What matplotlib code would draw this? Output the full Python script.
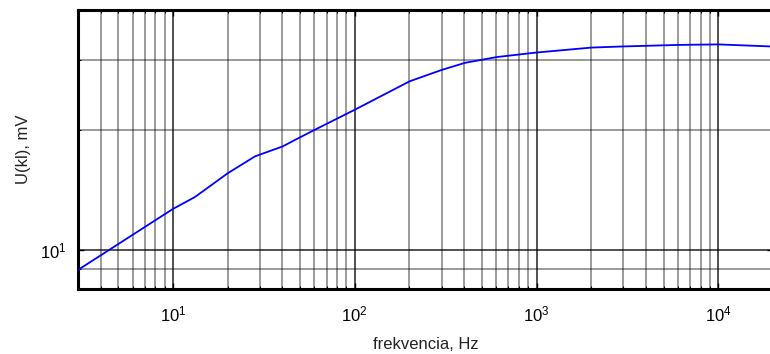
import matplotlib
matplotlib.use('Agg')
import numpy as np
from matplotlib import pyplot as plt
from matplotlib.ticker import LogLocator, NullFormatter, FixedLocator

plt.rcParams['font.family'] = ['Liberation Sans', 'DejaVu Sans']

# frequency response
freq = [3, 10, 13.2, 20, 28.3, 40, 49, 61, 100, 200, 300, 405, 607,
        1000, 2000, 2900, 6000, 10000, 20000]
u_mv = [8.93, 12.7, 13.6, 15.6, 17.2, 18.2, 19.1, 20.1, 22.5, 26.5, 28.3,
        29.5, 30.5, 31.3, 32.2, 32.4, 32.7, 32.8, 32.4]

x_lim = (3, 2e4)
y_lim = (8, 40)
x_major = [10, 100, 1000, 10000]
y_major = [10]
y_minor = [8, 9, 20, 30, 40]

fig = plt.figure(figsize=(7.7, 3.54), dpi=100)
ax = fig.add_axes([78 / 770, 1 - 289 / 354, 695 / 770, 279 / 354])

ax.plot(freq, u_mv, color='#0000ff', linewidth=1.3, zorder=3)

ax.set_xscale('log')
ax.set_yscale('log')
ax.set_xlim(*x_lim)
ax.set_ylim(*y_lim)

ax.xaxis.set_major_locator(FixedLocator(x_major))
ax.xaxis.set_minor_locator(LogLocator(base=10, subs=np.arange(2, 10)))
ax.xaxis.set_minor_formatter(NullFormatter())
ax.yaxis.set_major_locator(FixedLocator(y_major))
ax.yaxis.set_minor_locator(FixedLocator(y_minor))
ax.yaxis.set_minor_formatter(NullFormatter())
ax.set_xticklabels([r'$\mathregular{10^{%d}}$' % int(np.log10(v)) for v in x_major])
ax.set_yticklabels([r'$\mathregular{10^{1}}$'])

ax.grid(True, which='major', color='black', linewidth=1.2, alpha=0.8)
ax.grid(True, which='minor', color='black', linewidth=1.1, alpha=0.5)

ax.tick_params(which='both', direction='in', top=True, right=True,
               labelsize=12, colors='black')
ax.tick_params(axis='x', pad=11)
ax.tick_params(axis='y', pad=8)
ax.tick_params(which='major', length=4, width=1)
ax.tick_params(which='minor', length=2.5, width=0.8)

for s in ax.spines.values():
    s.set_linewidth(2.2)

ax.set_xlabel('frekvencia, Hz', fontsize=12, labelpad=9, color='#222222')
ax.set_ylabel('U(kl), mV', fontsize=12, labelpad=7, color='#222222')

fig.savefig('out.png', dpi=100)
